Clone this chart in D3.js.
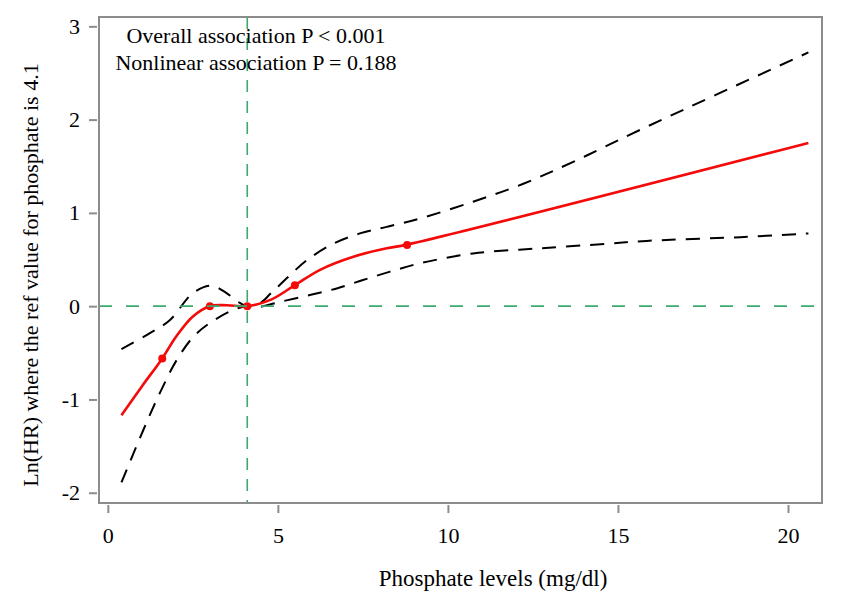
<!DOCTYPE html>
<html>
<head>
<meta charset="utf-8">
<script src="https://cdn.jsdelivr.net/npm/d3@7"></script>
<style>
  body { margin: 0; background: #fff; }
  text { font-family: "Liberation Serif", "Times New Roman", serif; fill: #000; }
</style>
</head>
<body>
<script>
// fitted ln(HR) curve
var fitX = [0.4, 1.0, 1.6, 2.0, 2.5, 3.0, 3.5, 4.1, 4.8, 5.5, 6.24, 7.22, 8.2, 8.8, 20.6];
var fitY = [-1.17, -0.86, -0.56, -0.33, -0.11, 0.0, 0.01, 0.0, 0.07, 0.225, 0.39, 0.53, 0.62, 0.66, 1.75];

// upper confidence band
var upX = [0.4, 1.14, 1.82, 2.5, 3.05, 3.49, 3.88, 4.1, 4.47, 4.8, 5.35, 5.84, 6.63, 7.41, 8.2, 9.18, 10.74, 12.2, 13.7, 15.65, 20.6];
var upY = [-0.46, -0.31, -0.15, 0.14, 0.22, 0.14, 0.035, 0.0, 0.03, 0.14, 0.33, 0.49, 0.67, 0.78, 0.85, 0.94, 1.12, 1.31, 1.55, 1.89, 2.72];

// lower confidence band
var loX = [0.4, 1.04, 1.53, 2.02, 2.51, 3.0, 3.69, 4.1, 4.4, 5.06, 5.94, 6.73, 7.5, 8.3, 9.18, 10.74, 12.7, 14.7, 15.84, 18.6, 20.6];
var loY = [-1.89, -1.33, -0.93, -0.58, -0.33, -0.18, -0.04, 0.0, -0.01, 0.046, 0.12, 0.19, 0.28, 0.37, 0.46, 0.565, 0.62, 0.67, 0.70, 0.74, 0.78];

// knots shown as dots
var knotX = [1.6, 3.0, 4.1, 5.5, 8.8];
var knotY = [-0.56, 0.0, 0.0, 0.225, 0.655];

var refX = 4.1;
var xTicks = [0, 5, 10, 15, 20];
var yTicks = [-2, -1, 0, 1, 2, 3];
var noteLines = ["Overall association P < 0.001", "Nonlinear association P = 0.188"];
var xTitle = "Phosphate levels (mg/dl)";
var yTitle = "Ln(HR) where the ref value for phosphate is 4.1";

var W = 845, H = 600;
var boxL = 99, boxR = 822, boxT = 17, boxB = 503;

var svg = d3.select("body").append("svg").attr("width", W).attr("height", H);

var x = d3.scaleLinear().domain([-0.26, 21.0]).range([boxL, boxR]);
var y = d3.scaleLinear().domain([-2.11, 3.1]).range([boxB, boxT]);

function zip(xs, ys) { return xs.map(function(d, i){ return [d, ys[i]]; }); }

var line = d3.line()
    .x(function(d){ return x(d[0]); })
    .y(function(d){ return y(d[1]); })
    .curve(d3.curveCatmullRom.alpha(0.5));

// bands
[zip(upX, upY), zip(loX, loY)].forEach(function(band){
  svg.append("path")
     .attr("fill", "none")
     .attr("stroke", "#000")
     .attr("stroke-width", 2)
     .attr("stroke-dasharray", "14,10")
     .attr("d", line(band));
});

// fitted curve
svg.append("path")
   .attr("fill", "none")
   .attr("stroke", "#f50a0a")
   .attr("stroke-width", 2.6)
   .attr("d", line(zip(fitX, fitY)));

svg.selectAll("circle.knot")
   .data(zip(knotX, knotY))
   .enter().append("circle")
     .attr("class", "knot")
     .attr("cx", function(d){ return x(d[0]); })
     .attr("cy", function(d){ return y(d[1]); })
     .attr("r", 4)
     .attr("fill", "#f50a0a");

// reference lines
svg.append("line")
   .attr("x1", boxL).attr("x2", boxR)
   .attr("y1", y(0)).attr("y2", y(0))
   .attr("stroke", "#3aaa6e").attr("stroke-width", 1.6)
   .attr("stroke-dasharray", "13,14");

svg.append("line")
   .attr("x1", x(refX)).attr("x2", x(refX))
   .attr("y1", boxT).attr("y2", boxB)
   .attr("stroke", "#3aaa6e").attr("stroke-width", 1.6)
   .attr("stroke-dasharray", "12,9");

// box
svg.append("rect")
   .attr("x", boxL).attr("y", boxT)
   .attr("width", boxR - boxL).attr("height", boxB - boxT)
   .attr("fill", "none")
   .attr("stroke", "#8c8c8c")
   .attr("stroke-width", 2);

// axes
var plainNum = function(d){ return String(d); };

var xAxis = svg.append("g")
    .attr("transform", "translate(0," + (boxB + 2) + ")")
    .call(d3.axisBottom(x).tickValues(xTicks).tickFormat(plainNum).tickSize(8).tickPadding(14));

var yAxis = svg.append("g")
    .attr("transform", "translate(" + (boxL - 2) + ",0)")
    .call(d3.axisLeft(y).tickValues(yTicks).tickFormat(plainNum).tickSize(8).tickPadding(9));

[xAxis, yAxis].forEach(function(g){
  g.select(".domain").remove();
  g.selectAll(".tick line").attr("stroke", "#8c8c8c").attr("stroke-width", 2);
  g.selectAll(".tick text")
   .attr("font-family", "Liberation Serif")
   .attr("font-size", 22)
   .attr("fill", "#000");
});

// annotation
svg.selectAll("text.note")
   .data(noteLines)
   .enter().append("text")
     .attr("class", "note")
     .attr("x", 256)
     .attr("y", function(d, i){ return 43 + i * 26.5; })
     .attr("text-anchor", "middle")
     .attr("font-size", 22)
     .text(function(d){ return d; });

// titles
svg.append("text")
   .attr("x", 493).attr("y", 586)
   .attr("text-anchor", "middle")
   .attr("font-size", 23)
   .text(xTitle);

svg.append("text")
   .attr("transform", "translate(38,275) rotate(-90)")
   .attr("text-anchor", "middle")
   .attr("font-size", 22)
   .text(yTitle);
</script>
</body>
</html>
